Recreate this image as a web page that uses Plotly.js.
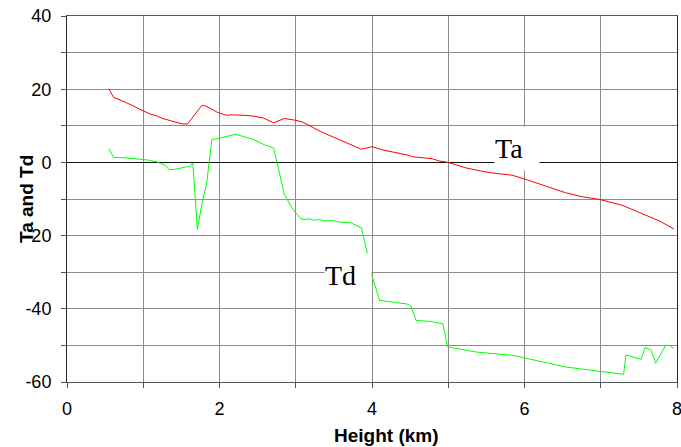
<!DOCTYPE html>
<html>
<head>
<meta charset="utf-8">
<script src="https://cdn.plot.ly/plotly-3.0.1.min.js"></script>
<style>html,body{margin:0;padding:0;background:#fff;}#chart{width:681px;height:447px;}</style>
</head>
<body>
<div id="chart"></div>
<script>
// Air temperature (Ta) profile
var taHeight = [0.55,0.61,0.78,0.99,1.10,1.17,1.24,1.39,1.52,1.58,1.77,1.82,1.98,2.09,2.17,2.39,2.57,2.71,2.85,3.00,3.09,3.33,3.57,3.86,4.00,4.14,4.47,4.53,4.79,4.88,5.00,5.23,5.54,5.84,6.04,6.28,6.54,6.76,6.98,7.28,7.52,7.77,7.96];
var taValue  = [20.1,17.8,16.3,14.2,13.1,12.8,12.1,11.2,10.5,10.5,15.6,15.4,13.6,12.9,13.0,12.8,12.2,10.8,12.0,11.5,11.0,8.4,6.3,3.6,4.3,3.4,2.0,1.55,1.0,0.4,0.0,-1.5,-2.8,-3.5,-4.8,-6.5,-8.3,-9.4,-10.1,-11.7,-13.8,-16.0,-18.2];

// Dew point (Td) profile
var tdHeight = [0.55,0.61,0.78,0.95,1.04,1.17,1.29,1.34,1.41,1.57,1.61,1.65,1.71,1.78,1.83,1.90,1.98,2.21,2.44,2.59,2.71,2.85,2.96,3.06,3.11,3.18,3.24,3.31,3.37,3.48,3.57,3.72,3.86,3.94,3.99,4.10,4.46,4.51,4.58,4.75,4.93,4.99,5.14,5.36,5.84,5.98,6.28,6.54,6.80,6.98,7.30,7.33,7.53,7.58,7.66,7.72,7.85,7.90,7.96];
var tdValue  = [3.7,1.4,1.2,1.0,0.7,0.2,-0.8,-2.0,-1.9,-1.2,-1.2,-0.1,-18.3,-10.1,-6.0,6.3,6.5,7.7,6.3,4.8,3.9,-8.7,-12.7,-15.3,-15.6,-15.4,-15.8,-15.6,-16.0,-15.9,-16.3,-16.5,-17.8,-25.0,-30.4,-37.7,-38.7,-39.2,-43.2,-43.4,-44.1,-50.4,-50.9,-51.8,-52.7,-53.4,-54.7,-55.9,-56.6,-57.1,-57.9,-52.6,-53.8,-50.6,-51.2,-54.9,-50.0,-50.0,-50.9];

// Tick labels
var xTickVals = [0, 2, 4, 6, 8];
var xTickText = ["0", "2", "4", "6", "8"];
var yTickVals = [-60, -40, -20, 0, 20, 40];
var yTickText = ["-60", "-40", "-20", "0", "20", "40"];

var xTitle = "Height (km)";
var yTitle = "Ta and Td";
var taLabel = "Ta";
var tdLabel = "Td";

var gridCol = "#8c8c8c";
var traces = [
  {x: taHeight, y: taValue, type: "scatter", mode: "lines", name: taLabel,
   line: {color: "#ff0000", width: 1}, hoverinfo: "skip"},
  {x: tdHeight, y: tdValue, type: "scatter", mode: "lines", name: tdLabel,
   line: {color: "#00ff00", width: 1}, hoverinfo: "skip"}
];

var layout = {
  width: 681, height: 447,
  margin: {l: 67, r: 4, t: 16, b: 65},
  paper_bgcolor: "#fff", plot_bgcolor: "#fff",
  showlegend: false,
  font: {family: "Liberation Sans, Arial, sans-serif", color: "#000"},
  xaxis: {
    range: [0, 8], tickmode: "array", tickvals: xTickVals, ticktext: xTickText,
    showgrid: true, gridcolor: gridCol, gridwidth: 1,
    ticks: "outside", ticklen: 5, tickcolor: "#555",
    minor: {dtick: 1, tick0: 0, showgrid: true, gridcolor: gridCol, gridwidth: 1, ticks: "outside", ticklen: 5, tickcolor: "#555"},
    showline: true, linecolor: "#555", linewidth: 1, mirror: true,
    zeroline: false,
    tickfont: {size: 18, color: "#000"},
    ticklabelstandoff: 5,
    ticklabeloverflow: "allow",
    fixedrange: true
  },
  yaxis: {
    range: [-60, 40], tickmode: "array", tickvals: yTickVals, ticktext: yTickText,
    showgrid: true, gridcolor: gridCol, gridwidth: 1,
    ticks: "outside", ticklen: 5, tickcolor: "#555",
    minor: {dtick: 10, tick0: 0, showgrid: true, gridcolor: gridCol, gridwidth: 1, ticks: "outside", ticklen: 5, tickcolor: "#555"},
    showline: true, linecolor: "#222", linewidth: 1, mirror: true,
    zeroline: true, zerolinecolor: "#111", zerolinewidth: 1.3,
    tickfont: {size: 18, color: "#000"},
    ticklabelstandoff: 6,
    ticklabeloverflow: "allow",
    fixedrange: true
  },
  annotations: [
    {xref: "x", yref: "y", x: 5.603, y: 9.84, xanchor: "left", yanchor: "top",
     text: taLabel, showarrow: false, bgcolor: "#fff", borderpad: 0, width: 44, height: 43, align: "left",
     font: {family: "Liberation Serif, Times New Roman, serif", size: 28, color: "#000"}},
    {xref: "x", yref: "y", x: 3.375, y: -24.86, xanchor: "left", yanchor: "top",
     text: tdLabel, showarrow: false, bgcolor: "#fff", borderpad: 0, width: 46, height: 43, align: "left",
     font: {family: "Liberation Serif, Times New Roman, serif", size: 28, color: "#000"}},
    {xref: "paper", yref: "paper", x: (386.5 - 67) / 610, y: -(435 - 382) / 366, xanchor: "center", yanchor: "middle",
     text: "<b>" + xTitle + "</b>", showarrow: false,
     font: {family: "Liberation Sans, Arial, sans-serif", size: 19, color: "#000"}},
    {xref: "paper", yref: "paper", x: -(67 - 26) / 610, y: (382 - 199) / 366, xanchor: "center", yanchor: "middle",
     text: "<b>" + yTitle + "</b>", textangle: -90, showarrow: false,
     font: {family: "Liberation Sans, Arial, sans-serif", size: 19, color: "#000"}}
  ]
};

Plotly.newPlot("chart", traces, layout, {staticPlot: true, displayModeBar: false});
</script>
</body>
</html>
